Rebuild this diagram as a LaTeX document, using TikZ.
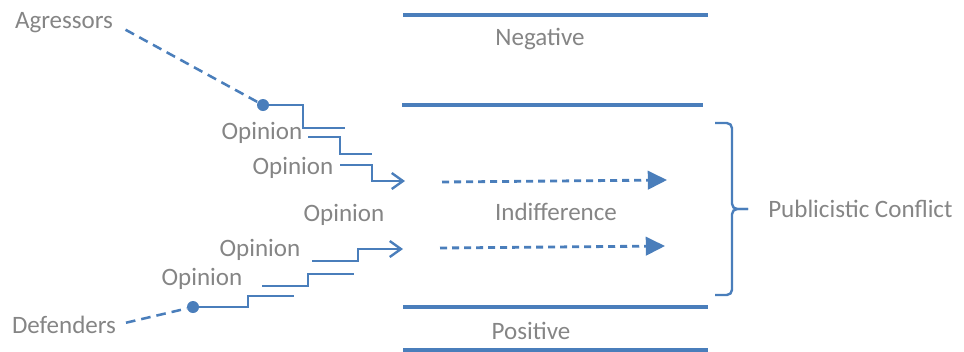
\documentclass[tikz,border=0pt]{standalone}
\usepackage{fontspec}
\setmainfont{Carlito}
\usepackage{tikz}
\usetikzlibrary{arrows.meta,positioning}
\definecolor{LineBlue}{HTML}{4A7EBB}
\definecolor{TextGrey}{HTML}{858585}
\tikzset{
  lbl/.style={inner sep=0pt,text=TextGrey,font=\fontsize{17.8}{20}\selectfont},
  sep/.style={draw=LineBlue,line width=2.5pt},
  stair/.style={draw=LineBlue,line width=1.7pt},
  stairarr/.style={stair,-{Straight Barb[length=0.28cm,width=0.4cm]}},
  flow/.style={draw=LineBlue,line width=2pt,dash pattern=on 0.18cm off 0.12cm,
               -{Triangle[length=0.48cm,width=0.46cm]}},
  link/.style={draw=LineBlue,line width=1.8pt,dash pattern=on 0.24cm off 0.15cm},
  dot/.style={circle,fill=LineBlue,inner sep=0pt,minimum size=0.3cm},
  bracket/.style={stair,rounded corners=0.13cm}
}
\begin{document}
\begin{tikzpicture}[x=0.025cm,y=-0.025cm]
  \useasboundingbox (0,0) rectangle (964,351);

  \node[lbl] (ag) at (64,23) {Agressors};
  \node[lbl] (df) at (64,325) {Defenders};
  \node[dot] (agdot) at (263,105) {};
  \node[dot] (dfdot) at (193,307) {};

  \node[lbl] (op1) at (262,133) {Opinion};
  \node[lbl] (op2) at (293,168) {Opinion};
  \node[lbl] (op3) at (344,215) {Opinion};
  \node[lbl] (op4) at (260,250) {Opinion};
  \node[lbl] (op5) at (202,279) {Opinion};

  \node[lbl] (neg) at (540,39) {Negative};
  \node[lbl] (ind) at (556,212) {Indifference};
  \node[lbl] (pos) at (531,331) {Positive};
  \node[lbl,anchor=west] (conf) at (768,209) {Publicistic Conflict};

  \coordinate (ua) at (405,181);
  \coordinate (la) at (403,249);
  \coordinate (uf) at (667,180);
  \coordinate (lf) at (665,246);
  \coordinate (tip) at (748,209);

  \draw[sep] (403,15) -- (708,15);
  \draw[sep] (402,105) -- (703,105);
  \draw[sep] (403,307) -- (708,307);
  \draw[sep] (403,350) -- (708,350);

  \draw[link,shorten <=0.35cm] (ag.east) -- (agdot);
  \draw[link,shorten <=0.25cm] (df.east) -- (dfdot);

  \draw[stair] (agdot) -| (303,128) -- (345,128);
  \draw[stair] (308,137) -| (340,154) -- (372,154);
  \draw[stairarr] (340,165) -| (372,181) -- (ua);

  \draw[stair] (dfdot) -| (248,296) -- (294,296);
  \draw[stair] (262,286) -| (308,274) -- (354,274);
  \draw[stairarr] (312,261) -| (358,249) -- (la);

  \draw[flow] (442,182) -- (uf);
  \draw[flow] (440,248) -- (lf);

  \draw[bracket] (715,123) -- (732,123) -- (732,209) -- (tip);
  \draw[bracket] (715,295) -- (732,295) -- (732,209) -- (tip);
\end{tikzpicture}
\end{document}
